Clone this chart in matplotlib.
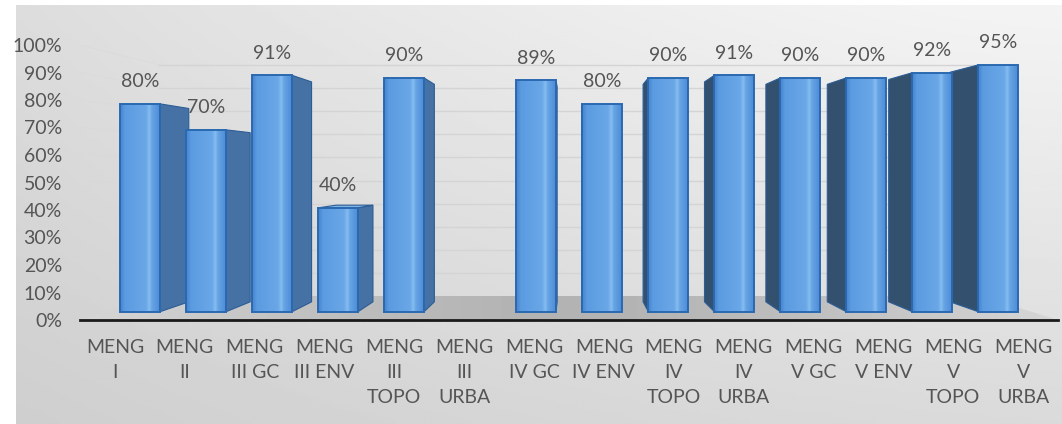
import numpy as np
import matplotlib.pyplot as plt
from matplotlib.patches import Polygon
from matplotlib.colors import LinearSegmentedColormap

plt.rcParams['font.family'] = ['Lato', 'DejaVu Sans']

categories = ['MENG\nI', 'MENG\nII', 'MENG\nIII GC', 'MENG\nIII ENV', 'MENG\nIII\nTOPO',
              'MENG\nIII\nURBA', 'MENG\nIV GC', 'MENG\nIV ENV', 'MENG\nIV\nTOPO',
              'MENG\nIV\nURBA', 'MENG\nV GC', 'MENG\nV ENV', 'MENG\nV\nTOPO', 'MENG\nV\nURBA']
values = [80, 70, 91, 40, 90, None, 89, 80, 90, 91, 90, 90, 92, 95]
yticks = [0, 10, 20, 30, 40, 50, 60, 70, 80, 90, 100]

# fake 3d perspective (vanishing point in data units)
vx, vy = 6.55, 54.5
s_front = 0.945
s_back = 0.945 * 0.93
s_wall = 0.84
bar_w = 0.6
text_col = '#555555'
fs = 14


def proj(x, y, s):
    return vx + s * (x - vx), vy + s * (y - vy)


fig = plt.figure(figsize=(10.62, 4.24), dpi=100)
fig.patch.set_facecolor('white')

# gradient chart background
bg = fig.add_axes([16 / 1062, 0, 1 - 16 / 1062, 1 - 5 / 424])
gx, gy = np.meshgrid(np.linspace(0, 1, 300), np.linspace(1, 0, 150))
g = 0.955 - 0.10 * (1 - gy) - 0.09 * (1 - gx) ** 1.5 * (0.5 + 0.5 * gy)
bg.imshow(g, cmap='gray', vmin=0, vmax=1, aspect='auto', extent=(0, 1, 0, 1))
bg.set_axis_off()
bg.set_zorder(-10)

ax = fig.add_axes([80 / 1062, (424 - 320) / 424, 978 / 1062, 275 / 424])
ax.patch.set_alpha(0)
n = len(categories)
x0, x1 = -0.5, n - 0.5

# floor
fl = [proj(x0, 0, 1), proj(x1, 0, 1), proj(x1, 0, s_wall), proj(x0, 0, s_wall)]
floor = Polygon(fl, closed=True, facecolor='none', edgecolor='none', zorder=1)
ax.add_patch(floor)
fg = 0.70 + 0.14 * np.abs(np.linspace(-1, 1, 200)) ** 1.5
im = ax.imshow(fg[None, :], cmap='gray', vmin=0, vmax=1, aspect='auto',
               extent=(x0, x1, 0, proj(0, 0, s_wall)[1]), zorder=1)
im.set_clip_path(floor)

# gridlines on back wall (side walls only very faint)
bl = proj(x0, 0, s_wall)[0]
br = proj(x1, 0, s_wall)[0]
for v in yticks[1:]:
    yb = proj(0, v, s_wall)[1]
    ax.plot([bl, br], [yb, yb], color='#d4d4d4', lw=1, zorder=2)
    ax.plot([x0, bl], [v, yb], color='#d8d8d8', lw=0.6, alpha=0.5, zorder=2)

front_cmap = LinearSegmentedColormap.from_list('front', [
    (0.0, '#4684cf'), (0.12, '#5b9be0'), (0.65, '#69a7e7'), (0.74, '#86bcf0'),
    (0.8, '#67a5e5'), (1.0, '#4d8cd6')])

order = sorted([i for i in range(n) if values[i] is not None],
               key=lambda i: -abs(proj(i, 0, s_front)[0] - vx))
for rank, i in enumerate(order):
    v = values[i]
    z = 5 + 3 * rank
    xl, xr = i - bar_w / 2, i + bar_w / 2
    xc = proj(i, 0, s_front)[0]
    ybot = proj(i, 0, s_front)[1]
    ytop = proj(i, v, s_front)[1]
    if xc < vx:
        xe, side_col = xr, '#4671a5'
    else:
        xe, side_col = xl, '#33506f'
    side = [proj(xe, 0, s_front), proj(xe, v, s_front), proj(xe, v, s_back), proj(xe, 0, s_back)]
    ax.add_patch(Polygon(side, closed=True, facecolor=side_col, edgecolor='#2c5d94', lw=0.8, zorder=z))
    if ytop < vy:
        top = [proj(xl, v, s_front), proj(xr, v, s_front), proj(xr, v, s_back), proj(xl, v, s_back)]
        ax.add_patch(Polygon(top, closed=True, facecolor='#7fb3e8', edgecolor='#2c5d94', lw=0.8, zorder=z))
    bar = ax.bar(xc, ytop - ybot, bottom=ybot, width=bar_w * s_front, color='none',
                 edgecolor='#2a69b0', lw=1.4, zorder=z + 2)[0]
    bx = bar.get_x()
    gim = ax.imshow(np.linspace(0, 1, 100)[None, :], cmap=front_cmap, aspect='auto',
                    extent=(bx, bx + bar.get_width(), ybot, ytop), zorder=z + 1)
    gim.set_clip_path(bar)
    ax.annotate(f'{v}%', (xc, ytop), xytext=(0, 16), textcoords='offset points',
                ha='center', va='center', fontsize=fs, color=text_col, zorder=60)

ax.set_xlim(x0, x1)
ax.set_ylim(0, 100)
ax.set_xticks(range(n))
ax.set_xticklabels(categories, fontsize=fs, color=text_col, linespacing=1.55)
ax.set_yticks(yticks)
ax.set_yticklabels([f'{t}%' for t in yticks], fontsize=fs, color=text_col)
ax.tick_params(axis='x', length=0, pad=14)
ax.tick_params(axis='y', length=0, pad=13)
for s in ['top', 'right', 'left']:
    ax.spines[s].set_visible(False)
ax.spines['bottom'].set_color('#1a1a1a')
ax.spines['bottom'].set_linewidth(2)
ax.spines['bottom'].set_zorder(70)

fig.savefig('out.png', dpi=100)
